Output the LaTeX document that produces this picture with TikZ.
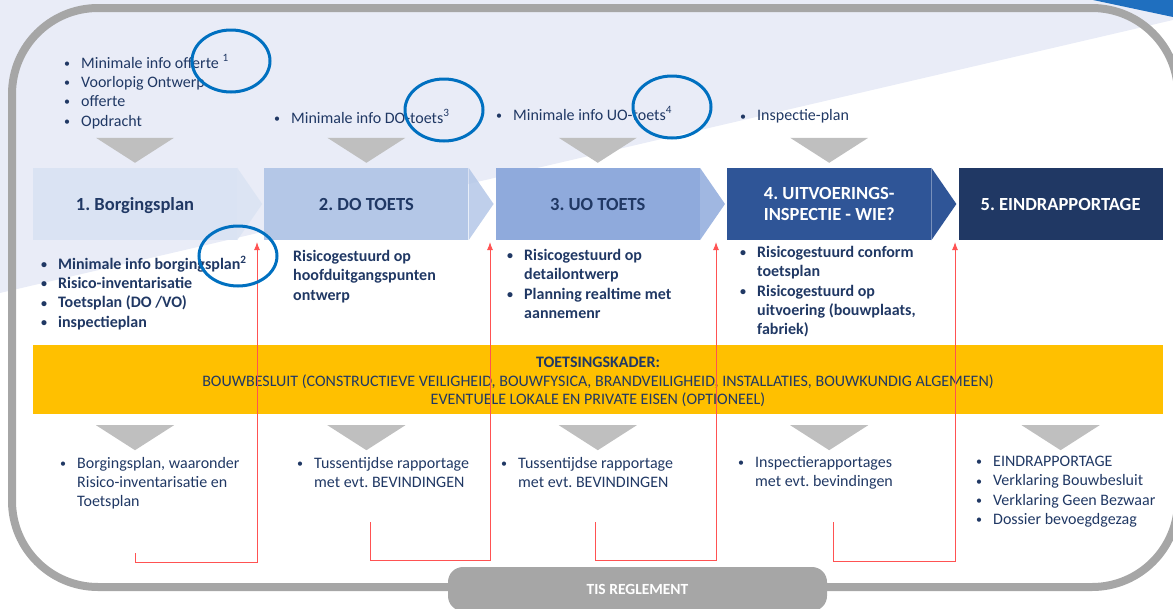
\documentclass[tikz,border=0pt]{standalone}
\usepackage{fontspec}
\setmainfont{Carlito}
\usetikzlibrary{positioning,arrows.meta}
\usepackage{xcolor}
\frenchspacing

\definecolor{achtergrond}{HTML}{E9ECF7}
\definecolor{randgrijs}{HTML}{A6A6A6}
\definecolor{pijlgrijs}{HTML}{BFBFBF}
\definecolor{tekstblauw}{HTML}{203864}
\definecolor{stap1}{HTML}{DAE3F3}
\definecolor{stap2}{HTML}{B4C7E7}
\definecolor{stap3}{HTML}{8FAADC}
\definecolor{stap4}{HTML}{2F5597}
\definecolor{stap5}{HTML}{203864}
\definecolor{kadergeel}{HTML}{FFC000}
\definecolor{cirkelblauw}{HTML}{0070C0}
\definecolor{hoekblauw}{HTML}{1F6FBF}
\definecolor{terugrood}{HTML}{FF5252}

\newcommand{\bol}{\makebox[17pt][l]{\raisebox{0.8pt}{\fontsize{12}{12}\selectfont\textbullet}}}
\newcommand{\inspr}{\hspace*{17pt}}

\begin{document}
\begin{tikzpicture}[
x=1pt, y=-1pt,
stapnode/.style={rectangle, minimum width=204pt, minimum height=72pt, inner sep=0pt, align=center, font=\bfseries\fontsize{18.5}{21}\selectfont},
lijst/.style={anchor=north west, inner sep=0pt, align=left, text=tekstblauw, font=\fontsize{16}{19.3}\selectfont},
vetlijst/.style={lijst, font=\bfseries\fontsize{16}{19.3}\selectfont},
kader/.style={rectangle, fill=kadergeel, minimum width=1130pt, minimum height=69pt, inner sep=0pt},
kadertekst/.style={inner sep=0pt, align=center, text=tekstblauw, font=\fontsize{16}{18.8}\selectfont},
tisknop/.style={rectangle, rounded corners=15pt, fill=randgrijs, minimum width=379pt, minimum height=44pt, text=white, font=\bfseries\fontsize{15.5}{17}\selectfont},
omcirkel/.style={draw=cirkelblauw, line width=3pt},
terugpijl/.style={draw=terugrood, line width=1pt, -{Latex[length=8pt,width=6pt]}},
]
\useasboundingbox (0,0) rectangle (1173,608);
\clip (0,0) rectangle (1173,608);

%Achtergrond
\fill[achtergrond] (0,0) -- (1173,0) -- (1173,20) -- (0,293) -- cycle;
\fill[hoekblauw] (1093,0) -- (1173,0) -- (1173,17) -- cycle;
\draw[randgrijs, line width=8pt, rounded corners=86pt] (12,8) rectangle (1178,587);

%Nodes
%%% Stappen
\node[stapnode, fill=stap1, text=tekstblauw, text depth=0pt] (borging) at (135,204) {1. Borgingsplan};
\node[stapnode, fill=stap2, text=tekstblauw] (dotoets) [right=27pt of borging] {2. DO TOETS};
\node[stapnode, fill=stap3, text=tekstblauw] (uotoets) [right=27pt of dotoets] {3. UO TOETS};
\node[stapnode, fill=stap4, text=white] (uitvoering) [right=27pt of uotoets] {4. UITVOERINGS-\\INSPECTIE - WIE?};
\node[stapnode, fill=stap5, text=white] (eind) [right=27pt of uitvoering] {5. EINDRAPPORTAGE};

%%%% Punten van de stappen
\fill[stap1, opacity=0.85] (borging.north east) -- ([xshift=25pt]borging.east) -- (borging.south east) -- cycle;
\fill[stap2, opacity=0.85] (dotoets.north east) -- ([xshift=25pt]dotoets.east) -- (dotoets.south east) -- cycle;
\fill[stap3, opacity=0.85] (uotoets.north east) -- ([xshift=25pt]uotoets.east) -- (uotoets.south east) -- cycle;
\fill[stap4] (uitvoering.north east) -- ([xshift=25pt]uitvoering.east) -- (uitvoering.south east) -- cycle;

%%% Invoer boven
\node[lijst] (invoerUno) at (64,54.5) {\bol Minimale info offerte \textsuperscript{1}\\\bol Voorlopig Ontwerp\\\bol offerte\\\bol Opdracht};
\node[lijst] (invoerDos) at (274,109.5) {\bol Minimale info DO-toets\textsuperscript{3}};
\node[lijst] (invoerTres) at (496,106.5) {\bol Minimale info UO-toets\textsuperscript{4}};
\node[lijst] (invoerCuatro) at (740,109.5) {\bol Inspectie-plan};

%%% Inhoud onder de stappen
\node[vetlijst] (inhoudUno) at (41,255.5) {\bol Minimale info borgingsplan\textsuperscript{2}\\\bol Risico-inventarisatie\\\bol Toetsplan (DO /VO)\\\bol inspectieplan};
\node[vetlijst] (inhoudDos) at (293,250) {Risicogestuurd op\\hoofduitgangspunten\\ontwerp};
\node[vetlijst] (inhoudTres) at (507,249) {\bol Risicogestuurd op\\\inspr detailontwerp\\\bol Planning realtime met\\\inspr aannemenr};
\node[vetlijst] (inhoudCuatro) at (740,246) {\bol Risicogestuurd conform\\\inspr toetsplan\\\bol Risicogestuurd op\\\inspr uitvoering (bouwplaats,\\\inspr fabriek)};

%%% Toetsingskader
\node[kader] (toetsingskader) at (598,379.5) {};
\node[kadertekst] (kadertekst) at (598,382) {\textbf{TOETSINGSKADER:}\\BOUWBESLUIT (CONSTRUCTIEVE VEILIGHEID, BOUWFYSICA, BRANDVEILIGHEID, INSTALLATIES, BOUWKUNDIG ALGEMEEN)\\EVENTUELE LOKALE EN PRIVATE EISEN (OPTIONEEL)};

%%% Uitvoer onder
\node[lijst] (uitvoerUno) at (60,457) {\bol Borgingsplan, waaronder\\\inspr Risico-inventarisatie en\\\inspr Toetsplan};
\node[lijst] (uitvoerDos) at (297,457) {\bol Tussentijdse rapportage\\\inspr met evt. BEVINDINGEN};
\node[lijst] (uitvoerTres) at (501,457) {\bol Tussentijdse rapportage\\\inspr met evt. BEVINDINGEN};
\node[lijst] (uitvoerCuatro) at (738,456) {\bol Inspectierapportages\\\inspr met evt. bevindingen};
\node[lijst] (uitvoerCinco) at (976,456) {\bol EINDRAPPORTAGE\\\bol Verklaring Bouwbesluit\\\bol Verklaring Geen Bezwaar\\\bol Dossier bevoegdgezag};

%%% TIS reglement
\node[tisknop] (tis) at (637.5,589) {TIS REGLEMENT};

%Driehoeken
%%% Boven
\fill[pijlgrijs] (borging.north) ++(-39,-30) -- ++(78,0) -- ++(-39,25) -- cycle;
\fill[pijlgrijs] (dotoets.north) ++(-39,-30) -- ++(78,0) -- ++(-39,25) -- cycle;
\fill[pijlgrijs] (uotoets.north) ++(-39,-30) -- ++(78,0) -- ++(-39,25) -- cycle;
\fill[pijlgrijs] (uitvoering.north) ++(-39,-30) -- ++(78,0) -- ++(-39,25) -- cycle;

%%% Onder
\fill[pijlgrijs] (borging.south) ++(-39,185) -- ++(78,0) -- ++(-39,25) -- cycle;
\fill[pijlgrijs] (dotoets.south) ++(-39,185) -- ++(78,0) -- ++(-39,25) -- cycle;
\fill[pijlgrijs] (uotoets.south) ++(-39,185) -- ++(78,0) -- ++(-39,25) -- cycle;
\fill[pijlgrijs] (uitvoering.south) ++(-39,185) -- ++(78,0) -- ++(-39,25) -- cycle;
\fill[pijlgrijs] (eind.south) ++(-39,185) -- ++(78,0) -- ++(-39,25) -- cycle;

%Lines
%%% Terugkoppeling
\coordinate (terugUnoStart) at (135,553);
\coordinate (terugUnoHoek) at (257,562);
\coordinate (terugUnoEind) at (257,242);
\coordinate (terugDosStart) at (370,522);
\coordinate (terugDosHoek) at (490,560);
\coordinate (terugDosEind) at (490,242);
\coordinate (terugTresStart) at (595,522);
\coordinate (terugTresHoek) at (716,560);
\coordinate (terugTresEind) at (716,242);
\coordinate (terugCuatroStart) at (833,522);
\coordinate (terugCuatroHoek) at (955,561);
\coordinate (terugCuatroEind) at (955,242);

\draw[terugpijl] (terugUnoStart) |- (terugUnoHoek) -- (terugUnoEind);
\draw[terugpijl] (terugDosStart) |- (terugDosHoek) -- (terugDosEind);
\draw[terugpijl] (terugTresStart) |- (terugTresHoek) -- (terugTresEind);
\draw[terugpijl] (terugCuatroStart) |- (terugCuatroHoek) -- (terugCuatroEind);

%%% Omcirkelingen
\draw[omcirkel] (231,61) ellipse [x radius=39pt, y radius=31pt];
\draw[omcirkel] (444,110) ellipse [x radius=39pt, y radius=31pt];
\draw[omcirkel] (672,107) ellipse [x radius=39pt, y radius=31pt];
\draw[omcirkel] (238,256) ellipse [x radius=39pt, y radius=30pt];

\end{tikzpicture}
\end{document}
